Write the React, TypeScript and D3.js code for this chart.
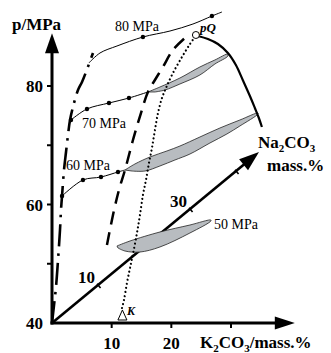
import React from "react";
import * as d3 from "d3";

const W = 331;
const H = 353;

// ---- axis ticks ----
const pTicks = [50, 60, 70, 80];
const pTickLabels = [40, 60, 80];
const kTicks = [10, 20, 30];
const kTickLabels = [10, 20];
const naTicks = [10, 20, 30, 40];
const naTickLabels = [10, 30];

// ---- curves in the drawing plane: [K2CO3 mass.%, p / MPa] ----
const isobar80: [number, number][] = [
  [6.2, 83.9], [8.04, 85.57], [10.89, 86.75], [15.24, 88.27], [19.77, 89.28], [23.62, 90.46], [26.8, 91.81], [28.48, 92.49],
];
const isobar80Dots = [3, 6];

const isobar70: [number, number][] = [
  [3.18, 74.26], [5.86, 76.12], [9.55, 77.13], [12.9, 77.97], [16.08, 78.99],
];
const isobar70Dots = [0, 1, 2, 3];

const isobar60: [number, number][] = [
  [1.68, 61.43], [5.19, 64.14], [8.21, 64.64], [11.06, 65.49], [12.23, 65.82],
];
const isobar60Dots = [0, 1, 2, 3];

// two-phase regions (upper edge then lower edge)
const region70Upper: [number, number][] = [
  [16.08, 78.99], [18.09, 79.83], [21.44, 81.35], [24.79, 83.21], [27.3, 84.39], [29.48, 85.4],
];
const region70Lower: [number, number][] = [
  [29.48, 85.06], [27.3, 83.71], [24.79, 81.86], [21.44, 80.34], [18.93, 79.32], [17.25, 78.99],
];
const region60Upper: [number, number][] = [
  [12.23, 65.82], [13.9, 66.84], [16.42, 68.02], [19.26, 69.03], [21.44, 69.87], [24.79, 71.39], [28.14, 72.91], [31.49, 74.26], [34.51, 75.44],
];
const region60Lower: [number, number][] = [
  [34.51, 75.27], [31.49, 73.25], [29.31, 71.9], [26.47, 70.38], [23.12, 68.52], [20.6, 67.51], [18.09, 66.5], [15.58, 65.65], [13.4, 65.65],
];
const region50Upper: [number, number][] = [
  [10.89, 53.0], [13.07, 53.84], [18.09, 55.36], [23.12, 56.54], [26.63, 57.38],
];
const region50Lower: [number, number][] = [
  [26.63, 57.22], [23.12, 55.19], [18.09, 52.83], [14.74, 51.98], [12.23, 52.15], [11.06, 52.66],
];

// dash-dot curve
const dashDotCurve: [number, number][] = [
  [0, 40], [0.34, 43.04], [0.67, 46.08], [1.01, 50.63], [1.34, 55.7], [1.51, 59.07], [1.68, 61.43], [2.01, 65.82],
  [2.35, 68.86], [2.68, 71.73], [3.02, 74.26], [3.69, 77.13], [4.36, 79.32], [5.03, 80.68], [5.7, 82.36], [6.87, 85.57],
];
// dashed curve
const dashedCurve: [number, number][] = [
  [9.21, 53.16], [10.22, 58.23], [11.22, 62.45], [12.23, 65.82], [13.57, 70.89], [14.91, 75.44], [16.08, 78.99],
  [17.25, 81.01], [18.59, 83.21], [20.27, 86.08], [22.28, 88.1],
];
// dotted curve from K to pQ
const dottedCurve: [number, number][] = [
  [11.73, 42.53], [12.06, 43.88], [12.56, 46.75], [13.07, 49.28], [13.57, 51.65], [14.24, 55.19], [14.74, 58.23],
  [15.24, 61.6], [15.75, 64.14], [16.25, 67.0], [16.75, 69.54], [17.25, 72.57], [17.76, 75.44], [18.43, 77.97],
  [19.1, 79.66], [20.27, 82.19], [21.78, 84.89], [23.12, 87.09], [23.95, 88.27],
];
// critical arc from pQ
const criticalArc: [number, number][] = [
  [24.46, 88.44], [26.13, 87.93], [27.81, 87.09], [29.48, 85.57], [30.82, 83.54], [31.99, 80.97], [33.17, 78.31],
  [34.0, 76.29], [34.67, 74.6], [35.18, 73.08],
];
const pointPQ: [number, number] = [24.12, 88.61];
const pointK: [number, number] = [11.8, 40];

// ---- scales ----
const xK = d3.scaleLinear().domain([0, 30]).range([52, 231]);
const yP = d3.scaleLinear().domain([40, 80]).range([323, 86]);
const naX = d3.scaleLinear().domain([0, 45]).range([0, 207]);
const naY = d3.scaleLinear().domain([0, 45]).range([0, -171]);
const pAxisMax = 88.9;
const kAxisMax = 40.7;
const naAxisMax = 45;

const naPt = (n: number): [number, number] => [xK(0) + naX(n), yP(40) + naY(n)];

const line = d3
  .line<[number, number]>()
  .x((d) => xK(d[0]))
  .y((d) => yP(d[1]))
  .curve(d3.curveCatmullRom.alpha(0.5));

const regionPath = (u: [number, number][], l: [number, number][]) => (line(u.concat(l)) || "") + "Z";

function arrowHead(tx: number, ty: number, ux: number, uy: number, L = 20, w = 7) {
  const bx = tx - ux * L;
  const by = ty - uy * L;
  const px = -uy;
  const py = ux;
  return `M${tx},${ty}L${bx + px * w},${by + py * w}L${bx - px * w},${by - py * w}Z`;
}

const serif = '"Liberation Serif", "Times New Roman", Times, serif';
const gray = "#b8bcc0";
const boldT: React.CSSProperties = { fontFamily: serif, fontWeight: 700, fontSize: 17 };
const regT: React.CSSProperties = { fontFamily: serif, fontWeight: 400, fontSize: 14 };
const itT: React.CSSProperties = { fontFamily: serif, fontWeight: 700, fontStyle: "italic", fontSize: 13 };

export default function App() {
  const ox = xK(0);
  const oy = yP(40);
  const pTop = yP(pAxisMax);
  const kRight = xK(kAxisMax);
  const [naTx, naTy] = naPt(naAxisMax);
  const naLen = Math.hypot(naTx - ox, naTy - oy);
  const nux = (naTx - ox) / naLen;
  const nuy = (naTy - oy) / naLen;
  const npx = -nuy;
  const npy = nux;

  return (
    <svg width={W} height={H} style={{ position: "absolute", left: 0, top: 0, background: "#fff", fontFamily: serif }}>
      {/* p axis */}
      <line x1={ox} y1={oy + 1.5} x2={ox} y2={pTop + 18} stroke="#000" strokeWidth={3} />
      <path d={arrowHead(ox, pTop, 0, -1, 20, 7)} fill="#000" />
      {pTicks.map((t) => (
        <line key={"pt" + t} x1={ox - 5} x2={ox} y1={yP(t)} y2={yP(t)} stroke="#000" strokeWidth={2} />
      ))}
      {pTickLabels.map((t) => (
        <text key={"pl" + t} x={ox - 9} y={yP(t) + 6} textAnchor="end" style={boldT}>
          {t}
        </text>
      ))}
      <text x={12} y={30} style={boldT}>
        p/MPa
      </text>

      {/* K2CO3 axis */}
      <line x1={ox - 1.5} y1={oy} x2={kRight - 18} y2={oy} stroke="#000" strokeWidth={3} />
      <path d={arrowHead(kRight, oy, 1, 0, 20, 6.5)} fill="#000" />
      {kTicks.map((t) => (
        <line key={"kt" + t} x1={xK(t)} x2={xK(t)} y1={oy} y2={oy + 5} stroke="#000" strokeWidth={2} />
      ))}
      {kTickLabels.map((t) => (
        <text key={"kl" + t} x={xK(t)} y={349} textAnchor="middle" style={boldT}>
          {t}
        </text>
      ))}
      <text x={200} y={348} style={boldT}>
        K<tspan style={{ fontSize: 11 }} dy={4}>2</tspan>
        <tspan dy={-4}>CO</tspan>
        <tspan style={{ fontSize: 11 }} dy={4}>3</tspan>
        <tspan dy={-4}>/mass.%</tspan>
      </text>

      {/* Na2CO3 axis */}
      <line x1={ox} y1={oy} x2={naTx - nux * 18} y2={naTy - nuy * 18} stroke="#000" strokeWidth={2.6} />
      <path d={arrowHead(naTx, naTy, nux, nuy, 20, 7)} fill="#000" />
      {naTicks.map((t) => {
        const [x, y] = naPt(t);
        return (
          <line key={"nt" + t} x1={x - npx * 1.5} y1={y - npy * 1.5} x2={x + npx * 4} y2={y + npy * 4} stroke="#000" strokeWidth={1.6} />
        );
      })}
      {naTickLabels.map((t) => {
        const [x, y] = naPt(t);
        return (
          <text key={"nl" + t} x={x - 3} y={y - 2} textAnchor="end" style={boldT}>
            {t}
          </text>
        );
      })}
      <text x={258} y={148} style={boldT}>
        Na<tspan style={{ fontSize: 11 }} dy={4}>2</tspan>
        <tspan dy={-4}>CO</tspan>
        <tspan style={{ fontSize: 11 }} dy={4}>3</tspan>
      </text>
      <text x={267} y={171} style={boldT}>
        mass.%
      </text>

      {/* isobars */}
      <path d={line(isobar80) || ""} fill="none" stroke="#000" strokeWidth={1} />
      <path d={line(isobar70) || ""} fill="none" stroke="#000" strokeWidth={1} />
      <path d={line(isobar60) || ""} fill="none" stroke="#000" strokeWidth={1} />

      {/* two-phase regions */}
      <path d={regionPath(region70Upper, region70Lower)} fill={gray} stroke="#222" strokeWidth={0.8} />
      <path d={regionPath(region60Upper, region60Lower)} fill={gray} stroke="#222" strokeWidth={0.8} />
      <path d={regionPath(region50Upper, region50Lower)} fill={gray} stroke="#222" strokeWidth={0.8} />

      {/* boundary curves */}
      <path d={line(dashDotCurve) || ""} fill="none" stroke="#000" strokeWidth={2.6} strokeDasharray="22 7 2.5 7" />
      <path d={line(dashedCurve) || ""} fill="none" stroke="#000" strokeWidth={2.5} strokeDasharray="13 8" />
      <path d={line(dottedCurve) || ""} fill="none" stroke="#000" strokeWidth={2.2} strokeDasharray="0.01 4.1" strokeLinecap="round" />
      <path d={line(criticalArc) || ""} fill="none" stroke="#000" strokeWidth={2.2} />

      {/* dots on isobars */}
      {isobar80Dots.map((i) => (
        <circle key={"d80" + i} cx={xK(isobar80[i][0])} cy={yP(isobar80[i][1])} r={2.2} fill="#000" />
      ))}
      {isobar70Dots.map((i) => (
        <circle key={"d70" + i} cx={xK(isobar70[i][0])} cy={yP(isobar70[i][1])} r={2.2} fill="#000" />
      ))}
      {isobar60Dots.map((i) => (
        <circle key={"d60" + i} cx={xK(isobar60[i][0])} cy={yP(isobar60[i][1])} r={2.2} fill="#000" />
      ))}

      {/* special points */}
      <circle cx={xK(pointPQ[0])} cy={yP(pointPQ[1])} r={3.5} fill="#fff" stroke="#000" strokeWidth={1} />
      <path
        d={`M${xK(pointK[0])},${yP(pointK[1]) - 13}L${xK(pointK[0]) - 4.5},${yP(pointK[1]) - 3}L${xK(pointK[0]) + 4.5},${yP(pointK[1]) - 3}Z`}
        fill="#fff"
        stroke="#000"
        strokeWidth={1}
      />

      {/* labels */}
      <text x={115} y={31} style={regT}>80 MPa</text>
      <text x={82} y={128} style={regT}>70 MPa</text>
      <text x={66} y={170} style={regT}>60 MPa</text>
      <text x={214} y={229} style={regT}>50 MPa</text>
      <text x={200} y={32} style={itT}>pQ</text>
      <text x={127} y={315} style={{ ...itT, fontSize: 12 }}>K</text>
    </svg>
  );
}
